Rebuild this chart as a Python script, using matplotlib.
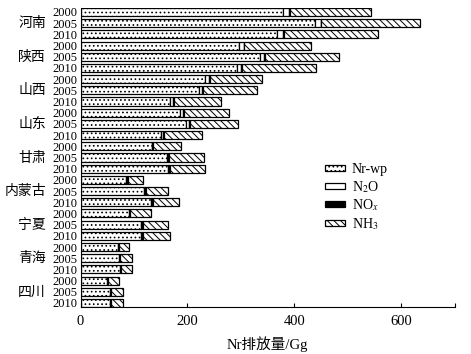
import numpy as np
import matplotlib
matplotlib.use("Agg")
import matplotlib.pyplot as plt

plt.rcParams['font.family'] = ['Liberation Serif', 'Noto Sans CJK SC']
plt.rcParams['mathtext.fontset'] = 'stix'
plt.rcParams['hatch.linewidth'] = 0.7

provinces = ['河南', '陕西', '山西', '山东', '甘肃', '内蒙古', '宁夏', '青海', '四川']
years = ['2000', '2005', '2010']

# Nr emissions (Gg) per province and year, in plotting order
nrwp = [379, 438, 367, 297, 335, 292, 233, 221, 168,
        186, 197, 150, 133, 162, 163, 86, 119, 132,
        91, 114, 114, 71, 72, 74, 50, 56, 55]
n2o = [11, 11, 12, 8, 8, 9, 7, 6, 5.5,
       6, 5.5, 5, 1.5, 2.5, 3, 1.5, 2, 2.5,
       1.5, 1.5, 1.5, 1, 1.5, 1, 1.5, 1, 1.5]
nox = [1.5, 1.5, 1.5, 1.5, 1.5, 1.5, 1.5, 1.5, 1.5,
       1.5, 1.5, 1.5, 1, 1, 1, 1, 1, 1,
       1, 1, 1, 0.8, 0.8, 0.8, 0.8, 0.8, 0.8]
nh3 = [152.5, 185.5, 175.5, 125.5, 138.5, 138.5, 97.5, 101.5, 87.5,
       84, 91.5, 71.5, 52.5, 65.5, 65.5, 28, 42.5, 49.5,
       38, 46.5, 50.5, 18.7, 22.7, 21.2, 19.2, 21.2, 21.7]

y = np.arange(len(nrwp))
h = 0.72

fig = plt.figure(figsize=(4.71, 3.54), dpi=100)
ax = fig.add_axes([80.5/471, 1-307/354, (454.7-80.5)/471, (307-7.5)/354])

left = np.zeros(len(y))
b1 = ax.barh(y, nrwp, h, left=left, color='white', edgecolor='black', lw=0.9, hatch='....', label='Nr-wp')
left += nrwp
b2 = ax.barh(y, n2o, h, left=left, color='white', edgecolor='black', lw=0.9, label='N$_2$O')
left += n2o
b3 = ax.barh(y, nox, h, left=left, color='black', edgecolor='black', lw=0.9, label='NO$_{\\mathit{x}}$')
left += nox
b4 = ax.barh(y, nh3, h, left=left, color='white', edgecolor='black', lw=0.9, hatch='\\\\\\\\\\', label='NH$_3$')

ax.set_ylim(len(y) - 1 + h/2, -0.4)
ax.set_xlim(0, 700)
ax.set_xticks([0, 200, 400, 600, 700])
ax.set_xticklabels(['0', '200', '400', '600', ''])
ax.tick_params(axis='x', direction='in', length=3, labelsize=10.5, pad=6)
ax.set_yticks(y)
ax.set_yticklabels(years * len(provinces))
ax.tick_params(axis='y', length=0, labelsize=9, pad=2)
for s in ['top', 'right']:
    ax.spines[s].set_visible(False)

for i, p in enumerate(provinces):
    fig.text(46/471, 1 - (12 + (3*i + 1)*11.2)/354, p, fontsize=10,
             ha='right', va='center', family=['Noto Sans CJK SC'])

ax.set_xlabel('Nr排放量/Gg', fontsize=10.5, labelpad=6)

fig.legend(handles=[b1, b2, b3, b4], loc='upper left', bbox_to_anchor=(0.664, 0.575),
           frameon=False, fontsize=10, handlelength=1.45, handleheight=0.3,
           labelspacing=0.2, handletextpad=0.45)

fig.savefig('out.png', dpi=100)
